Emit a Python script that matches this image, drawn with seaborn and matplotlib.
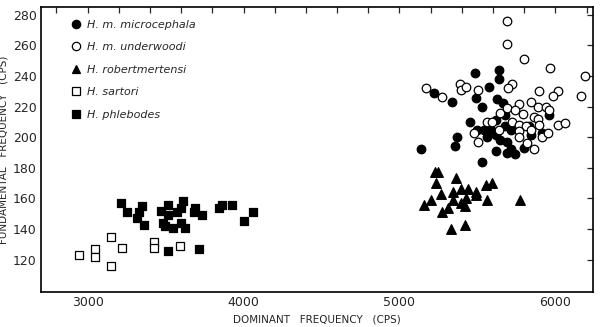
import matplotlib
matplotlib.use("Agg")
import matplotlib.pyplot as plt
import numpy as np
import pandas as pd
import seaborn as sns

# Dominant vs fundamental frequency of calls (cps), by taxon
micro_x = [5487, 5641, 5641, 5577, 5224, 5340, 5494, 5628, 5667, 5532, 5455, 5622,
           5680, 5961, 5500, 5545, 5590, 5680, 5718, 5833, 5372, 5564, 5622, 5647,
           5692, 5846, 5917, 5359, 5141, 5622, 5692, 5743, 5801, 5718, 5532]
micro_y = [241.7, 244, 238, 233, 229, 223, 225.5, 225, 222, 220, 210, 211,
           214.5, 214.5, 205, 205, 205, 207, 205, 207, 200, 200, 201.5, 198,
           197, 201.5, 203, 194, 192, 191, 190, 189, 193, 192, 184]

under_x = [5692, 5692, 5801, 5968, 6192, 6166, 5173, 5276, 5391, 5397, 5429, 5506,
           5724, 5699, 5898, 6019, 5987, 5769, 5846, 5891, 5942, 5961, 5647, 5692,
           5743, 5795, 5865, 5891, 5564, 5596, 5724, 5641, 5769, 5814, 5898, 6019,
           6064, 5481, 5506, 5769, 5846, 5917, 5955, 5769, 5820, 5865]
under_y = [275.5, 261, 251, 245, 240, 227, 232, 226, 234.5, 231, 233, 231,
           235, 232, 230, 230, 227, 221.6, 223, 220, 220, 218, 216, 219,
           218, 215, 213, 212, 210, 210, 210, 205, 208, 207, 208, 208,
           209, 203, 197, 204, 205, 200, 203, 200, 196, 192]

robert_x = [5231, 5250, 5365, 5237, 5269, 5346, 5397, 5442, 5494, 5494, 5558, 5596,
            5205, 5160, 5346, 5429, 5397, 5423, 5314, 5276, 5564, 5776, 5423, 5333]
robert_y = [177, 177.5, 173.5, 170, 163, 164.5, 166.5, 166.5, 164, 162, 168.5, 170,
            159, 156, 159, 160, 157, 155, 154, 151.5, 159, 159, 143, 140]

sartori_x = [2942, 3045, 3045, 3147, 3147, 3218, 3423, 3423, 3590]
sartori_y = [123, 127, 122, 135, 116, 127.5, 131.5, 127.5, 129]

phleb_x = [3212, 3250, 3346, 3327, 3314, 3365, 3468, 3513, 3513, 3481, 3494, 3571,
           3597, 3609, 3597, 3545, 3622, 3680, 3692, 3731, 3840, 3859, 3923, 4000,
           4058, 3513, 3712]
phleb_y = [157, 151, 155, 151, 147, 142.5, 152, 155.5, 149, 144, 142, 151,
           153.5, 158.5, 144, 141, 141, 151, 153.5, 149.5, 153.5, 155.5, 156, 145.5,
           151, 125.5, 127]

taxa = ["H. m. microcephala", "H. m. underwoodi", "H. robertmertensi",
        "H. sartori", "H. phlebodes"]

series = [
    (micro_x, micro_y, "o", "black", 38),
    (under_x, under_y, "o", "white", 38),
    (robert_x, robert_y, "^", "black", 48),
    (sartori_x, sartori_y, "s", "white", 36),
    (phleb_x, phleb_y, "s", "black", 36),
]

sns.set_style("white")
plt.rcParams["font.family"] = ["DejaVu Sans"]

fig = plt.figure(figsize=(6.0, 3.27), dpi=100)
ax = fig.add_axes([0.068, 0.107, 0.92, 0.872])

handles = []
for name, (xs, ys, mk, fc, sz) in zip(taxa, series):
    df = pd.DataFrame({"dominant": xs, "fundamental": ys})
    sns.scatterplot(data=df, x="dominant", y="fundamental", marker=mk, s=sz,
                    color=fc, edgecolor="black", linewidth=0.9, ax=ax, zorder=3)
    handles.append(plt.Line2D([], [], linestyle="none", marker=mk, markersize=6,
                              markerfacecolor=fc, markeredgecolor="black",
                              markeredgewidth=0.9, label=name))

ax.set_xlim(2700, 6240)
ax.set_ylim(99, 285)
ax.set_xticks(np.arange(2800, 6201, 200))
ax.set_xticklabels([str(v) if v % 1000 == 0 else "" for v in range(2800, 6201, 200)])
ax.set_yticks(np.arange(120, 281, 20))

ax.tick_params(direction="in", length=4, width=0.9, top=True, right=True,
               labelsize=9, pad=3)
for sp in ax.spines.values():
    sp.set_visible(True)
    sp.set_color("black")
    sp.set_linewidth(1.2)

ax.set_xlabel("DOMINANT   FREQUENCY   (CPS)", fontsize=7.5, labelpad=4)
ax.set_ylabel("FUNDAMENTAL   FREQUENCY   (CPS)", fontsize=7.5, labelpad=3)

leg = ax.legend(handles=handles, loc="upper left", frameon=False,
                prop={"style": "italic", "size": 8}, handletextpad=0.5,
                labelspacing=1.12, borderaxespad=0.0, handlelength=1.0,
                bbox_to_anchor=(0.045, 0.97))

fig.savefig("out.png", dpi=100, facecolor="white")
